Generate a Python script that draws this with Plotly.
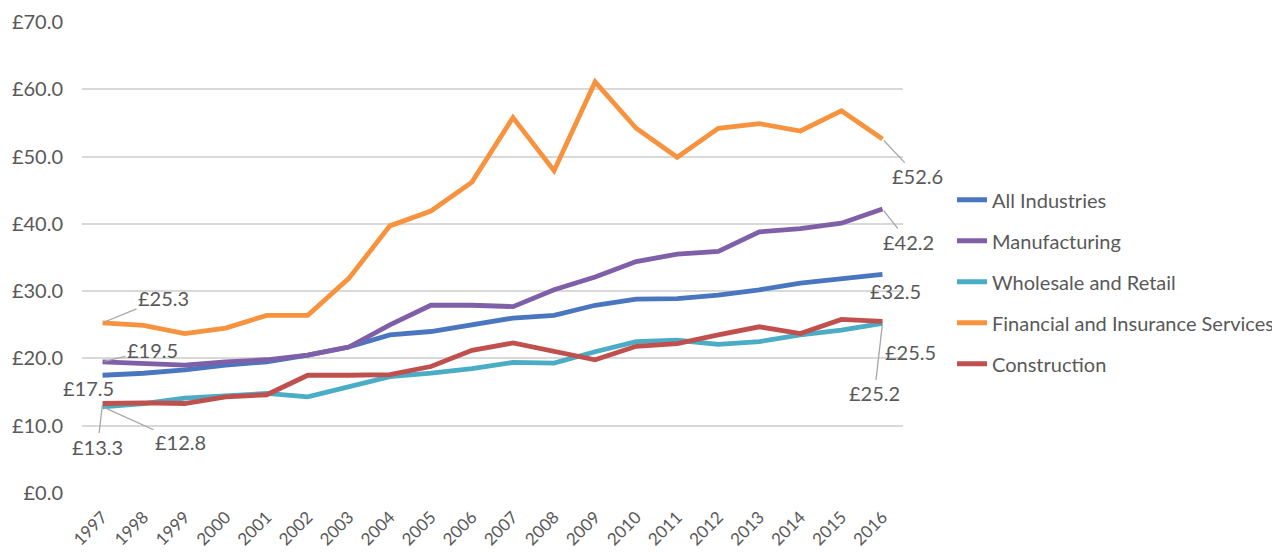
import plotly.graph_objects as go

years = [str(y) for y in range(1997, 2017)]

all_industries = [17.5, 17.8, 18.3, 19.0, 19.5, 20.5, 21.7, 23.5, 24.0, 25.0,
                  26.0, 26.4, 27.9, 28.8, 28.9, 29.4, 30.2, 31.2, 31.9, 32.5]
manufacturing = [19.5, 19.2, 19.0, 19.5, 19.8, 20.5, 21.7, 25.0, 27.9, 27.9,
                 27.7, 30.2, 32.1, 34.4, 35.5, 35.9, 38.8, 39.3, 40.1, 42.2]
wholesale = [12.8, 13.3, 14.1, 14.4, 14.8, 14.3, 15.8, 17.3, 17.8, 18.5,
             19.4, 19.3, 21.0, 22.5, 22.7, 22.1, 22.5, 23.5, 24.2, 25.2]
financial = [25.3, 24.9, 23.7, 24.5, 26.4, 26.4, 31.9, 39.7, 41.9, 46.2,
             55.8, 47.9, 61.1, 54.2, 49.9, 54.2, 54.9, 53.8, 56.8, 52.6]
construction = [13.3, 13.4, 13.3, 14.3, 14.6, 17.5, 17.5, 17.6, 18.8, 21.2,
                22.3, 21.0, 19.8, 21.8, 22.2, 23.5, 24.7, 23.7, 25.8, 25.5]

series_names = ["All Industries", "Manufacturing", "Wholesale and Retail",
                "Financial and Insurance Services", "Construction"]
series_values = [all_industries, manufacturing, wholesale, financial, construction]
series_colors = ["#4A76C0", "#7F5FA8", "#4BACC6", "#F7933E", "#C0504D"]

FONT = "Lato, 'Open Sans', sans-serif"
TXT = "#595959"

fig = go.Figure()
for i, (name, vals, col) in enumerate(zip(series_names, series_values, series_colors)):
    fig.add_trace(go.Scatter(
        x=list(range(len(years))), y=vals, name=name, mode="lines",
        line=dict(color=col, width=4.8),
        legendgroup=f"g{i}",
    ))

# data labels: (series index, point index, ax, ay, show leader)
label_specs = [
    (3, 0, 61, -25, True),
    (1, 0, 50, -12, True),
    (0, 0, -14, 13, False),
    (4, 0, -5, 43, True),
    (2, 0, 78, 35, True),
    (3, 19, 35, 37, True),
    (1, 19, 26, 33, True),
    (0, 19, 13, 17, False),
    (4, 19, 28, 31, False),
    (2, 19, -8, 70, True),
]
annotations = []
for si, pi, ax, ay, lead in label_specs:
    v = series_values[si][pi]
    annotations.append(dict(
        x=pi, y=v, xref="x", yref="y", text=f"£{v:.1f}",
        showarrow=True, arrowhead=0, arrowwidth=1.3,
        arrowcolor="#A6A6A6" if lead else "rgba(255,255,255,0)",
        ax=ax, ay=ay, axref="pixel", ayref="pixel", standoff=2,
        font=dict(family=FONT, size=20, color=TXT),
    ))

# page body has an 8px margin; the figure is offset by it, so size accordingly
fig.update_layout(
    width=1288, height=544,
    paper_bgcolor="white", plot_bgcolor="white",
    margin=dict(l=74, r=393, t=14, b=59),
    font=dict(family=FONT, size=18, color=TXT),
    showlegend=True,
    annotations=annotations,
    legend=dict(
        x=1.0597, y=0.664, xanchor="left", yanchor="top",
        font=dict(family=FONT, size=20, color=TXT),
        tracegroupgap=12, bgcolor="rgba(0,0,0,0)",
    ),
)
fig.update_xaxes(
    range=[-0.5, 19.5], tickmode="array",
    tickvals=list(range(len(years))), ticktext=years,
    showgrid=False, showline=False, zeroline=False, ticks="",
    tickangle=-45, automargin=False, ticklabelstandoff=10,
    tickfont=dict(family=FONT, size=17, color=TXT),
)
fig.update_yaxes(
    range=[0, 70], dtick=10, tickprefix="£", tickformat=".1f",
    showgrid=True, gridcolor="#D9D9D9", gridwidth=1.5,
    zeroline=False, showline=False, ticks="", automargin=False,
    ticklabelstandoff=18,
    tickfont=dict(family=FONT, size=20, color=TXT),
)

fig.write_html("out.html")
